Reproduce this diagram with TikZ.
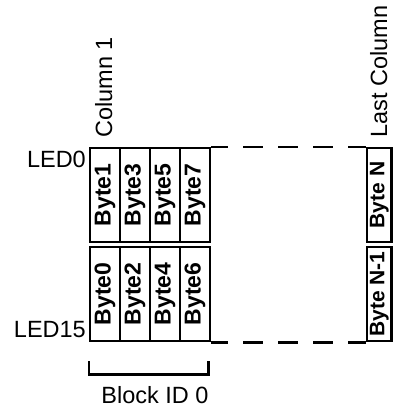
\documentclass[tikz,border=0pt]{standalone}
\usepackage{fontspec}
\setmainfont{Liberation Sans}
\usetikzlibrary{positioning,calc}

\begin{document}
\begin{tikzpicture}[x=1pt,y=-1pt,
    byte/.style={draw,line width=2.6pt,minimum width=30pt,minimum height=94pt,
      inner sep=0pt,font=\fontsize{23}{26}\selectfont\bfseries},
    lastbyte/.style={byte,minimum width=24.5pt,font=\fontsize{21}{24}\selectfont\bfseries},
    lbl/.style={font=\fontsize{23.5}{27}\selectfont,inner sep=0pt},
    gapline/.style={line width=2.4pt,dash pattern=on 20pt off 15pt,dash phase=3pt}
  ]
    \useasboundingbox (0,0) rectangle (393,409);
    \node[byte] (b1) at (105,195) {\rotatebox{90}{Byte1}};
    \node[byte] (b3) at (135,195) {\rotatebox{90}{Byte3}};
    \node[byte] (b5) at (165,195) {\rotatebox{90}{Byte5}};
    \node[byte] (b7) at (195,195) {\rotatebox{90}{Byte7}};
    \node[byte] (b0) at (105,294) {\rotatebox{90}{Byte0}};
    \node[byte] (b2) at (135,294) {\rotatebox{90}{Byte2}};
    \node[byte] (b4) at (165,294) {\rotatebox{90}{Byte4}};
    \node[byte] (b6) at (195,294) {\rotatebox{90}{Byte6}};
    \node[lastbyte] (bn) at (379.25,195) {\rotatebox{90}{Byte N}};
    \node[lastbyte] (bn1) at (379.25,294) {\rotatebox{90}{Byte N-1}};
    \node[lbl,anchor=base east] (led0) at (86,167) {LED0};
    \node[lbl,anchor=base east] (led15) at (86,337) {LED15};
    \node[lbl,rotate=90,anchor=base west] (col1) at (112,138) {Column 1};
    \node[lbl,rotate=90,anchor=base west] (lastcol) at (387,138) {Last Column};
    \node[lbl,anchor=base] (blockid) at (155,403) {Block ID 0};
    \draw[gapline] (b7.north east) -- (bn.north west);
    \draw[gapline] (b6.south east) -- (bn1.south west);
    \draw[line width=2.4pt] ($(b0.south west)+(0,19)$) -- ++(0,13)
      -| ($(b6.south east)+(-3,19)$);
  \end{tikzpicture}
\end{document}
